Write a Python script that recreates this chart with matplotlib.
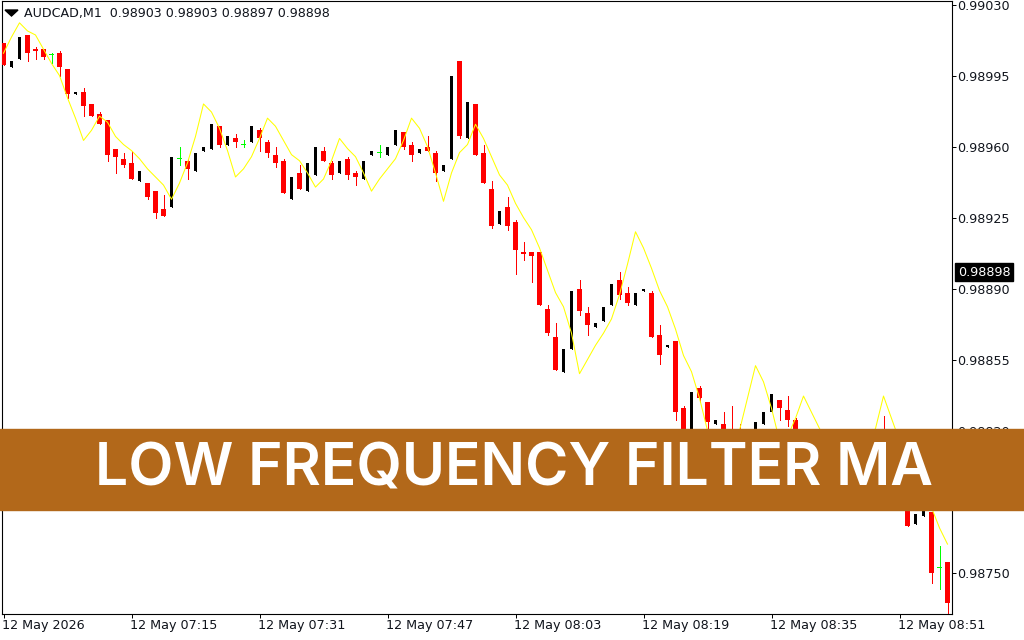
import numpy as np
import matplotlib
matplotlib.use("Agg")
import matplotlib.pyplot as plt
from matplotlib.patches import Rectangle
from matplotlib.transforms import blended_transform_factory, ScaledTranslation

# quotes are in points (1e-5), bars from 06:59 on, one per minute
opens = [99011, 98999, 99003, 99015, 99008, 99008, 99005, 99006, 98998, 98986,
         98987, 98981, 98976, 98973, 98959, 98954, 98952, 98943, 98942, 98938,
         98929, 98930, 98954, 98953, 98948, 98958, 98959, 98970, 98961, 98964,
         98961, 98962, 98968, 98962, 98956, 98953, 98934, 98947, 98938, 98946,
         98958, 98952, 98947, 98954, 98947, 98944, 98956, 98957, 98956, 98961,
         98967, 98961, 98957, 98960, 98957, 98948, 98954, 99002, 98964, 98981,
         98957, 98939, 98922, 98930, 98923, 98908, 98908, 98908, 98880, 98866,
         98849, 98860, 98890, 98878, 98871, 98874, 98882, 98894, 98888, 98882,
         98889, 98888, 98867, 98861, 98864, 98831, 98821, 98841, 98834, 98823,
         98823, 98821, 98819, 98808, 98812, 98823, 98829, 98835, 98830, 98825,
         98812, 98806, 98811, 98803, 98798, 98803, 98797, 98790, 98796, 98792,
         98800, 98795, 98790, 98788, 98774, 98778, 98780, 98752, 98755]
closes = [99000, 99002, 99014, 99006, 99007, 99004, 99005, 98999, 98986, 98987,
          98980, 98975, 98971, 98956, 98955, 98951, 98944, 98948, 98935, 98927,
          98926, 98955, 98954, 98949, 98957, 98960, 98971, 98961, 98965, 98962,
          98961, 98970, 98964, 98957, 98952, 98937, 98945, 98939, 98952, 98960,
          98953, 98946, 98953, 98946, 98945, 98953, 98958, 98957, 98960, 98968,
          98960, 98956, 98959, 98958, 98947, 98951, 98995, 98965, 98982, 98956,
          98942, 98921, 98928, 98921, 98909, 98907, 98906, 98882, 98868, 98850,
          98860, 98889, 98879, 98872, 98873, 98881, 98892, 98887, 98883, 98888,
          98890, 98866, 98857, 98862, 98829, 98813, 98839, 98836, 98824, 98825,
          98821, 98815, 98813, 98818, 98824, 98829, 98838, 98831, 98825, 98812,
          98806, 98811, 98803, 98798, 98803, 98797, 98790, 98796, 98792, 98800,
          98795, 98790, 98786, 98773, 98779, 98785, 98750, 98752, 98735]
highs = [99011, 99002, 99014, 99015, 99009, 99008, 99006, 99007, 98998, 98987,
         98989, 98981, 98977, 98973, 98959, 98957, 98958, 98948, 98942, 98938,
         98936, 98955, 98960, 98954, 98957, 98960, 98971, 98970, 98965, 98966,
         98963, 98970, 98969, 98963, 98960, 98954, 98945, 98951, 98952, 98960,
         98960, 98953, 98953, 98955, 98948, 98953, 98958, 98961, 98960, 98968,
         98967, 98962, 98959, 98965, 98958, 98951, 98995, 99002, 98982, 98981,
         98961, 98943, 98928, 98935, 98924, 98913, 98908, 98908, 98882, 98873,
         98860, 98889, 98894, 98881, 98873, 98881, 98892, 98898, 98891, 98888,
         98890, 98889, 98872, 98862, 98864, 98832, 98839, 98842, 98834, 98825,
         98829, 98832, 98823, 98818, 98824, 98829, 98838, 98835, 98837, 98826,
         98815, 98813, 98813, 98805, 98804, 98806, 98799, 98797, 98800, 98802,
         98827, 98798, 98795, 98790, 98779, 98787, 98780, 98763, 98755]
lows = [99000, 98999, 99003, 99002, 99003, 99003, 99001, 98995, 98984, 98986,
        98975, 98975, 98971, 98953, 98947, 98950, 98944, 98943, 98934, 98925,
        98926, 98930, 98951, 98944, 98948, 98958, 98959, 98960, 98961, 98960,
        98960, 98962, 98958, 98955, 98950, 98937, 98934, 98939, 98938, 98946,
        98953, 98944, 98947, 98944, 98941, 98944, 98956, 98955, 98956, 98961,
        98959, 98953, 98957, 98958, 98943, 98948, 98954, 98964, 98964, 98956,
        98942, 98920, 98922, 98919, 98897, 98904, 98893, 98882, 98867, 98850,
        98849, 98860, 98877, 98867, 98871, 98874, 98882, 98885, 98882, 98882,
        98889, 98866, 98853, 98861, 98825, 98813, 98821, 98834, 98815, 98823,
        98819, 98812, 98810, 98808, 98812, 98823, 98829, 98825, 98822, 98810,
        98803, 98804, 98801, 98796, 98796, 98795, 98788, 98788, 98790, 98790,
        98790, 98788, 98784, 98773, 98774, 98778, 98745, 98742, 98730]
filter_ma = [99006, 99014, 99021, 99017, 99015, 99008, 99001, 98995, 98984, 98974,
             98963, 98968, 98975, 98972, 98965, 98961, 98958, 98954, 98949, 98945,
             98941, 98934, 98942, 98952, 98965, 98981, 98977, 98969, 98958, 98945,
             98949, 98955, 98964, 98974, 98970, 98963, 98956, 98953, 98947, 98940,
             98944, 98953, 98964, 98959, 98955, 98947, 98938, 98944, 98949, 98954,
             98963, 98974, 98969, 98960, 98947, 98933, 98947, 98957, 98961, 98971,
             98964, 98955, 98946, 98941, 98932, 98925, 98919, 98910, 98899, 98888,
             98881, 98868, 98848, 98855, 98862, 98868, 98875, 98887, 98902, 98918,
             98910, 98900, 98889, 98881, 98870, 98857, 98849, 98836, 98820, 98813,
             98809, 98810, 98820, 98836, 98852, 98844, 98831, 98815, 98817, 98826,
             98837, 98829, 98821, 98813, 98808, 98805, 98806, 98810, 98815, 98821,
             98837, 98826, 98815, 98803, 98793, 98786, 98782, 98772, 98764]

price_ticks = [99030, 98995, 98960, 98925, 98890, 98855, 98820, 98785, 98750]
time_ticks = [0, 16, 32, 48, 64, 80, 96, 112]
time_labels = ["12 May 2026", "12 May 07:15", "12 May 07:31", "12 May 07:47",
               "12 May 08:03", "12 May 08:19", "12 May 08:35", "12 May 08:51"]
last_price = 98898
header = "AUDCAD,M1  0.98903 0.98903 0.98897 0.98898"
title = "LOW FREQUENCY FILTER MA"

opens = np.array(opens) / 1e5
closes = np.array(closes) / 1e5
highs = np.array(highs) / 1e5
lows = np.array(lows) / 1e5
filter_ma = np.array(filter_ma) / 1e5
bars = np.arange(len(opens))

RED = "#ff0000"
BLACK = "#000000"
GREEN = "#00ff00"
W, H = 1024, 640
PX = 1 / 8  # one pixel in bar units

plt.rcParams["font.family"] = "DejaVu Sans"
fig = plt.figure(figsize=(W / 100, H / 100), dpi=100, facecolor="white")
ax = fig.add_axes([2 / W, 1 - 613.5 / H, 950 / W, 613 / H])
ax.set_xlim(-0.1875, 118.5625)
ax.set_ylim(0.987298, 0.99032)

# wicks first, then bodies. black bodies are narrower than red ones on this chart
for i in bars:
    up = closes[i] > opens[i]
    down = closes[i] < opens[i]
    col = BLACK if up else (RED if down else GREEN)
    ax.vlines(i, lows[i], highs[i], color=col, lw=0.6, antialiased=False, zorder=2)
    if up:
        ax.bar(i, closes[i] - opens[i], bottom=opens[i], width=3 * PX, color=col,
               linewidth=0, antialiased=False, zorder=3)
    elif down:
        ax.bar(i, opens[i] - closes[i], bottom=closes[i], width=5 * PX, color=col,
               linewidth=0, antialiased=False, zorder=3)
    else:
        ax.bar(i, 0.5e-5, bottom=opens[i], width=5 * PX, color=col,
               linewidth=0, antialiased=False, zorder=3)

ax.plot(bars, filter_ma, color="#ffff00", lw=0.75, zorder=4)

ax.yaxis.tick_right()
ax.set_yticks(np.array(price_ticks) / 1e5)
ax.set_yticklabels(["%.5f" % (p / 1e5) for p in price_ticks])
ax.set_xticks(time_ticks)
ax.set_xticklabels(time_labels, ha="left")
ax.tick_params(axis="y", length=2.8, width=0.72, pad=1.2, labelsize=9.2, labelcolor="#10141c")
ax.tick_params(axis="x", length=2.8, width=0.72, pad=0.8, labelsize=9.2, labelcolor="#10141c")
shift = ScaledTranslation(-2 / 100, 0, fig.dpi_scale_trans)
for lbl in ax.get_xticklabels():
    lbl.set_transform(lbl.get_transform() + shift)
for s in ax.spines.values():
    s.set_linewidth(0.8)

# header line with the little triangle
ax.text(24 / W, 1 - 14 / H, header, transform=fig.transFigure, fontsize=9.05,
        color="#10141c", va="center", ha="left", zorder=6)
ax.fill([5 / W, 18 / W, 11.5 / W], [1 - 10 / H, 1 - 10 / H, 1 - 16 / H],
        transform=fig.transFigure, color="black", clip_on=False, zorder=6)

# last price flag
flag = blended_transform_factory(fig.transFigure, ax.transData)
ax.text(958 / W, last_price / 1e5, "%.5f" % (last_price / 1e5), transform=flag,
        color="white", fontsize=9.2, va="center", ha="left", clip_on=False, zorder=7,
        bbox=dict(boxstyle="square,pad=0.2", fc="black", ec="black"))

# banner sits on top of the chart
ax.add_patch(Rectangle((0, 1 - 510 / H), 1, 81 / H, transform=fig.transFigure,
                       color="#b2681a", clip_on=False, zorder=10))
ax.text(514 / W, 1 - 470 / H, title, transform=fig.transFigure, color="white",
        fontsize=42.3, fontweight="semibold", family="Inter", ha="center", va="center",
        clip_on=False, zorder=11)

fig.savefig("out.png", dpi=100)
